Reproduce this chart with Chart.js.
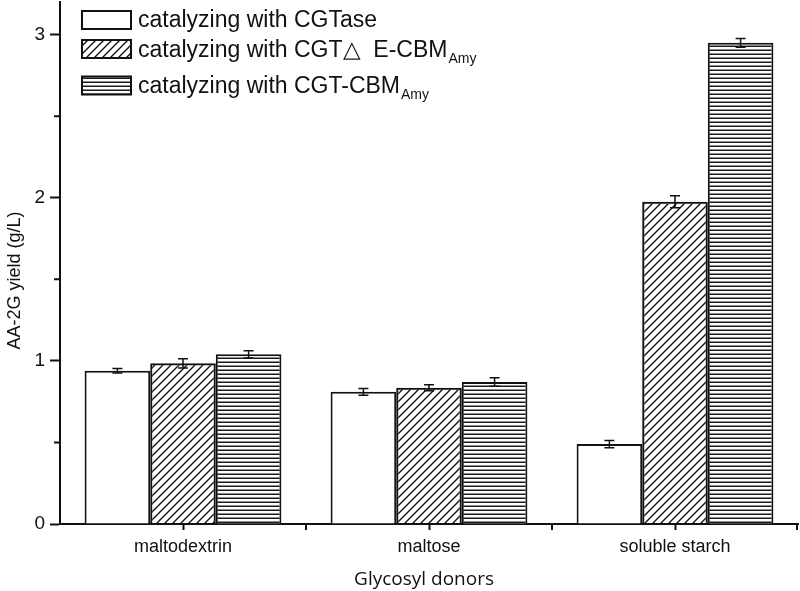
<!DOCTYPE html>
<html>
<head>
<meta charset="utf-8">
<script src="https://cdn.jsdelivr.net/npm/chart.js@4/dist/chart.umd.min.js"></script>
<style>
  html, body { margin: 0; padding: 0; background: #fff; }
  #wrap { width: 800px; height: 591px; }
</style>
</head>
<body>
<div id="wrap"><canvas id="chart" width="800" height="591"></canvas></div>
<script>
// ========================
// Data
// ========================
const donors = ['maltodextrin', 'maltose', 'soluble starch'];

const cgtase    = [0.94, 0.81, 0.49];
const cgtDeltaE = [0.985, 0.835, 1.975];
const cgtCbm    = [1.04, 0.87, 2.95];

const errCgtase    = [0.014, 0.020, 0.022];
const errDeltaE    = [0.028, 0.018, 0.037];
const errCbm       = [0.022, 0.026, 0.027];

const yTicksMajor = [0, 1, 2, 3];
const yTicksMinor = [0.5, 1.5, 2.5];
const yMax = 3.2;

// ========================
// Fill patterns
// ========================
function diagPattern() {
  const c = document.createElement('canvas');
  c.width = 8; c.height = 8;
  const g = c.getContext('2d');
  g.strokeStyle = '#111';
  g.lineWidth = 1.4;
  g.beginPath();
  g.moveTo(-2, 10); g.lineTo(10, -2);
  g.moveTo(-2, 2); g.lineTo(2, -2);
  g.moveTo(6, 10); g.lineTo(10, 6);
  g.stroke();
  return g.createPattern(c, 'repeat');
}
function horizPattern() {
  const c = document.createElement('canvas');
  c.width = 4; c.height = 4;
  const g = c.getContext('2d');
  g.fillStyle = '#fff';
  g.fillRect(0, 0, 4, 4);
  g.fillStyle = '#1a1a1a';
  g.fillRect(0, 1.5, 4, 1.5);
  return g.createPattern(c, 'repeat');
}

const fills = ['#ffffff', diagPattern(), horizPattern()];
const errs = [errCgtase, errDeltaE, errCbm];

// ========================
// Plugins: error bars, minor ticks, legend
// ========================
const errorBars = {
  id: 'errorBars',
  afterDatasetsDraw(chart) {
    const { ctx } = chart;
    const y = chart.scales.y;
    ctx.save();
    ctx.strokeStyle = '#111';
    ctx.lineWidth = 1.5;
    chart.data.datasets.forEach((ds, i) => {
      const meta = chart.getDatasetMeta(i);
      meta.data.forEach((bar, j) => {
        const v = ds.data[j], e = errs[i][j];
        const yt = y.getPixelForValue(v + e), yb = y.getPixelForValue(v - e);
        const x = bar.x, w = 5;
        ctx.beginPath();
        ctx.moveTo(x, yt); ctx.lineTo(x, yb);
        ctx.moveTo(x - w, yt); ctx.lineTo(x + w, yt);
        ctx.moveTo(x - w, yb); ctx.lineTo(x + w, yb);
        ctx.stroke();
      });
    });
    ctx.restore();
  }
};

const minorTicks = {
  id: 'minorTicks',
  afterDraw(chart) {
    const { ctx, chartArea } = chart;
    const x = chart.scales.x, y = chart.scales.y;
    ctx.save();
    ctx.strokeStyle = '#111';
    ctx.lineWidth = 2;
    ctx.beginPath();
    yTicksMinor.forEach(v => {
      const py = y.getPixelForValue(v);
      ctx.moveTo(chartArea.left - 6, py); ctx.lineTo(chartArea.left, py);
    });
    for (let i = 0; i < donors.length; i++) {
      const px = i < donors.length - 1
        ? (x.getPixelForValue(i) + x.getPixelForValue(i + 1)) / 2
        : chartArea.right - 1;
      ctx.moveTo(px, chartArea.bottom); ctx.lineTo(px, chartArea.bottom + 6);
    }
    ctx.stroke();
    ctx.restore();
  }
};

const boxLegend = {
  id: 'boxLegend',
  afterDraw(chart) {
    const { ctx } = chart;
    const rows = [
      { top: 11, base: 26.5, text: 'catalyzing with CGTase', sub: '' },
      { top: 40, base: 57, text: 'catalyzing with CGT\u25B3  E-CBM', sub: 'Amy' },
      { top: 76.5, base: 93, text: 'catalyzing with CGT-CBM', sub: 'Amy' }
    ];
    ctx.save();
    rows.forEach((r, i) => {
      ctx.fillStyle = fills[i];
      ctx.fillRect(82, r.top, 49, 18);
      ctx.strokeStyle = '#111';
      ctx.lineWidth = 2;
      ctx.strokeRect(82, r.top, 49, 18);
      ctx.fillStyle = '#111';
      ctx.font = '23px "Liberation Sans", Arial, sans-serif';
      ctx.textBaseline = 'alphabetic';
      ctx.textAlign = 'left';
      ctx.fillText(r.text, 138, r.base);
      if (r.sub) {
        const w = ctx.measureText(r.text).width;
        ctx.font = '14px "Liberation Sans", Arial, sans-serif';
        ctx.fillText(r.sub, 138 + w + 1, r.base + 6);
      }
    });
    ctx.restore();
  }
};

// ========================
// Chart
// ========================
Chart.defaults.font.family = '"Liberation Sans", Arial, sans-serif';
Chart.defaults.color = '#111';

new Chart(document.getElementById('chart'), {
  type: 'bar',
  data: {
    labels: donors,
    datasets: [
      { label: 'catalyzing with CGTase', data: cgtase, backgroundColor: fills[0] },
      { label: 'catalyzing with CGT\u25B3 E-CBM Amy', data: cgtDeltaE, backgroundColor: fills[1] },
      { label: 'catalyzing with CGT-CBM Amy', data: cgtCbm, backgroundColor: fills[2] }
    ]
  },
  options: {
    responsive: false,
    animation: false,
    layout: { padding: { top: 2, right: 2, left: 0, bottom: 0 } },
    datasets: {
      bar: {
        borderColor: '#111',
        borderWidth: 2,
        categoryPercentage: 0.8,
        barPercentage: 1.0
      }
    },
    plugins: {
      legend: { display: false },
      tooltip: { enabled: false }
    },
    scales: {
      x: {
        afterFit: s => { s.height = 67; s.paddingLeft = 0; s.paddingRight = 0; },
        border: { color: '#111', width: 2 },
        grid: { drawOnChartArea: false, tickLength: 6, tickColor: '#111', tickWidth: 2, offset: false },
        ticks: { padding: 6, font: { size: 18 }, color: '#111' },
        title: {
          display: true, text: 'Glycosyl donors' + '\u00A0\u00A0',
          font: { size: 19, family: '"Open Sans", sans-serif' },
          padding: { top: 0, bottom: 0 }, color: '#111'
        }
      },
      y: {
        min: 0, max: yMax,
        afterFit: s => { s.width = 60; s.paddingTop = 0; s.paddingBottom = 0; },
        border: { color: '#111', width: 2 },
        grid: {
          drawOnChartArea: false, tickLength: 10, tickWidth: 2,
          tickColor: c => yTicksMajor.includes(c.tick.value) ? '#111' : 'rgba(0,0,0,0)'
        },
        ticks: {
          stepSize: 0.5, includeBounds: false, padding: 5,
          font: { size: 19 }, color: '#111',
          callback: v => yTicksMajor.includes(v) ? String(v) : ''
        },
        title: {
          display: true, text: 'AA-2G yield (g/L)' + '\u00A0'.repeat(7),
          font: { size: 18 },
          padding: { top: 4, bottom: 0 }, color: '#111'
        }
      }
    }
  },
  plugins: [errorBars, minorTicks, boxLegend]
});
</script>
</body>
</html>
